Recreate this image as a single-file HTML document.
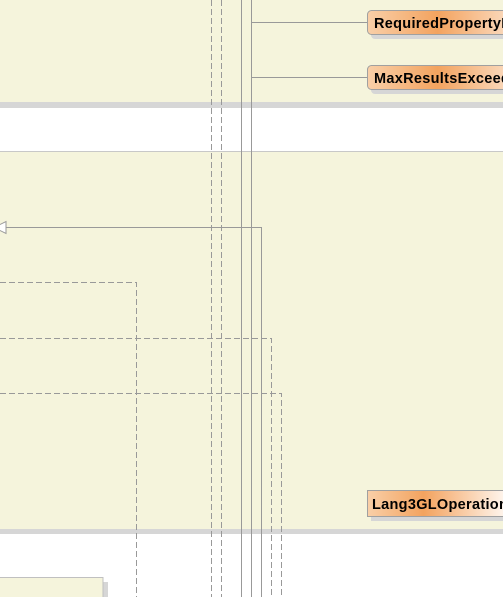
<!DOCTYPE html>
<html><head><style>html,body{margin:0;padding:0;background:#fff;overflow:hidden}</style></head>
<body>
<svg width="503" height="597" xmlns="http://www.w3.org/2000/svg" style="display:block;font-family:'Liberation Sans',sans-serif">
<defs>
<linearGradient id="g1" x1="0" x2="1" y1="0" y2="0">
<stop offset="0" stop-color="#f9cfa8"/><stop offset="0.5" stop-color="#f3a35f"/><stop offset="1" stop-color="#fad9bc"/>
</linearGradient>
<linearGradient id="g2" x1="0" x2="1" y1="0" y2="0">
<stop offset="0" stop-color="#f9cfa8"/><stop offset="0.4" stop-color="#f3a35f"/><stop offset="1" stop-color="#fff8f2"/>
</linearGradient>
</defs>
<rect x="0" y="0" width="503" height="102" fill="#f5f4dc"/>
<rect x="0" y="102" width="503" height="6" fill="#d6d6d6"/>
<rect x="0" y="151" width="503" height="1" fill="#c8c8c8"/>
<rect x="0" y="152" width="503" height="377" fill="#f5f4dc"/>
<rect x="0" y="529" width="503" height="5" fill="#d6d6d6"/>
<rect x="103" y="582" width="5" height="15" fill="#d6d6d6"/>
<rect x="-1" y="577.5" width="104" height="25" fill="#f5f4dc" stroke="#c0c0c0"/>
<g stroke="#999" stroke-width="1" fill="none">
<line x1="211.5" y1="0" x2="211.5" y2="597" stroke-dasharray="6,3"/>
<line x1="221.5" y1="0" x2="221.5" y2="597" stroke-dasharray="6,3"/>
<line x1="241.5" y1="0" x2="241.5" y2="597"/>
<line x1="251.5" y1="0" x2="251.5" y2="597"/>
<line x1="251" y1="22.5" x2="367" y2="22.5"/>
<line x1="251" y1="77.5" x2="367" y2="77.5"/>
<polyline points="6,227.5 261.5,227.5 261.5,597"/>
<polyline points="0,282.5 136.5,282.5 136.5,597" stroke-dasharray="6,3"/>
<polyline points="0,338.5 271.5,338.5 271.5,597" stroke-dasharray="6,3"/>
<polyline points="0,393.5 281.5,393.5 281.5,597" stroke-dasharray="6,3"/>
<polygon points="6,221.5 6,233.5 -6,227.5" fill="#fff"/>
</g>
<rect x="371" y="15" width="140" height="24" rx="4" fill="#d6d6d6"/>
<rect x="367.5" y="10.5" width="140" height="24" rx="4" fill="url(#g1)" stroke="#a0a0a0"/>
<text x="374" y="28" font-size="14.5" font-weight="bold" fill="#000" letter-spacing="0.3">RequiredPropertyException</text>
<rect x="371" y="70" width="140" height="24" rx="4" fill="#d6d6d6"/>
<rect x="367.5" y="65.5" width="140" height="24" rx="4" fill="url(#g1)" stroke="#a0a0a0"/>
<text x="374" y="83" font-size="14.5" font-weight="bold" fill="#000" letter-spacing="0.3">MaxResultsExceeded</text>
<rect x="371" y="495" width="140" height="26" fill="#d6d6d6"/>
<rect x="367.5" y="490.5" width="140" height="26" fill="url(#g2)" stroke="#a0a0a0"/>
<text x="372" y="509" font-size="14.5" font-weight="bold" fill="#000" letter-spacing="0.3">Lang3GLOperation</text>
</svg>
</body></html>
